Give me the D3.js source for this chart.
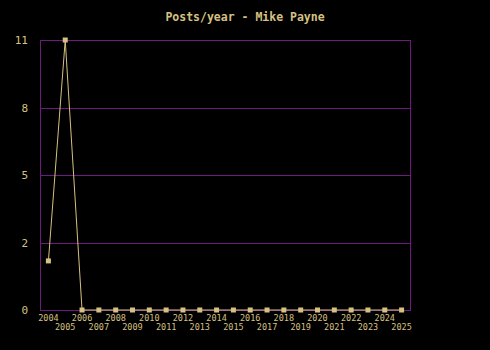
<!DOCTYPE html>
<html lang="en">
	<head>
		<meta charset="utf-8">
		<title>Posts/year - Mike Payne</title>
		<script type="text/javascript" src="https://cdn.jsdelivr.net/npm/d3@7"></script>
		<style type="text/css">
			body { margin: 0; background: #000; }
			svg { display: block; background: #000; }
			.lbl {
				font-family: "DejaVu Sans Mono", monospace;
				fill: #d6c182;
			}
		</style>
	</head>
	<body>
		<script type="text/javascript">

			var w = 490;
			var h = 350;
			var margin = {top: 40, right: 80, bottom: 40, left: 40};

			var years = ["2004", "2005", "2006", "2007", "2008", "2009", "2010", "2011",
				"2012", "2013", "2014", "2015", "2016", "2017", "2018", "2019", "2020",
				"2021", "2022", "2023", "2024", "2025"];
			var posts = [2, 11, 0, 0, 0, 0, 0, 0, 0, 0, 0, 0, 0, 0, 0, 0, 0, 0, 0, 0, 0, 0];
			var yTicks = [0, 2.75, 5.5, 8.25, 11];
			var yTickLabels = ["0", "2", "5", "8", "11"];

			var tan = "#d6c182";
			var purple = "#6e1a80";

			var svg = d3.select("body")
				.append("svg")
				.attr("width", w)
				.attr("height", h);

			var x = d3.scaleBand()
				.domain(years)
				.range([margin.left, w - margin.right]);

			var y = d3.scaleLinear()
				.domain([0, 11])
				.range([h - margin.bottom, margin.top]);

			//gridlines
			svg.selectAll("line.grid")
				.data(yTicks.slice(1, 4))
				.enter()
				.append("line")
				.attr("class", "grid")
				.attr("x1", margin.left)
				.attr("x2", w - margin.right)
				.attr("y1", function(d) { return Math.round(y(d)) + 0.5; })
				.attr("y2", function(d) { return Math.round(y(d)) + 0.5; })
				.attr("stroke", purple)
				.attr("stroke-width", 1);

			//frame
			svg.append("rect")
				.attr("x", margin.left + 0.5)
				.attr("y", margin.top + 0.5)
				.attr("width", w - margin.left - margin.right)
				.attr("height", h - margin.top - margin.bottom)
				.attr("fill", "none")
				.attr("stroke", purple);

			//y labels
			svg.selectAll("text.ylab")
				.data(yTicks)
				.enter()
				.append("text")
				.attr("class", "lbl ylab")
				.attr("x", 28)
				.attr("y", function(d) { return y(d) + 4; })
				.attr("text-anchor", "end")
				.style("font-size", "11px")
				.text(function(d, i) { return yTickLabels[i]; });

			//x labels, staggered
			svg.selectAll("text.xlab")
				.data(years)
				.enter()
				.append("text")
				.attr("class", "lbl xlab")
				.attr("x", function(d) { return x(d) + x.bandwidth() / 2; })
				.attr("y", function(d, i) { return i % 2 == 0 ? 321 : 330; })
				.attr("text-anchor", "middle")
				.style("font-size", "8.5px")
				.text(function(d) { return d; });

			//line
			var line = d3.line()
				.x(function(d, i) { return x(years[i]) + x.bandwidth() / 2; })
				.y(function(d) { return y(d); });

			svg.append("path")
				.datum(posts)
				.attr("d", line)
				.attr("fill", "none")
				.attr("stroke", tan)
				.attr("stroke-width", 1);

			//markers
			svg.selectAll("rect.pt")
				.data(posts)
				.enter()
				.append("rect")
				.attr("class", "pt")
				.attr("x", function(d, i) { return x(years[i]) + x.bandwidth() / 2 - 2.5; })
				.attr("y", function(d) { return y(d) - 2.5; })
				.attr("width", 5)
				.attr("height", 5)
				.attr("fill", tan);

			//title
			svg.append("text")
				.attr("class", "lbl")
				.attr("x", 245)
				.attr("y", 21)
				.attr("text-anchor", "middle")
				.style("font-size", "11.5px")
				.style("font-weight", "bold")
				.text("Posts/year - Mike Payne");

		</script>
	</body>
</html>
